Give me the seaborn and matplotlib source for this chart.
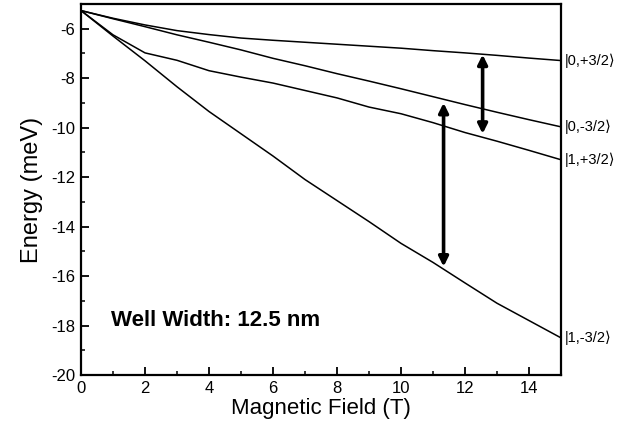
import numpy as np
import pandas as pd
import matplotlib
matplotlib.use("Agg")
import matplotlib.pyplot as plt
from matplotlib.ticker import MultipleLocator
import seaborn as sns

# Magnetic field grid (T)
field = [0, 1, 2, 3, 4, 5, 6, 7, 8, 9, 10, 11, 12, 13, 14, 15]

# Hole level energies (meV)
e_0_plus = [-5.27, -5.58, -5.85, -6.08, -6.24, -6.38, -6.47, -6.55,
            -6.63, -6.71, -6.79, -6.89, -6.98, -7.08, -7.19, -7.29]
e_0_minus = [-5.27, -5.60, -5.92, -6.25, -6.55, -6.86, -7.20, -7.50,
             -7.82, -8.12, -8.43, -8.75, -9.07, -9.38, -9.68, -9.97]
e_1_plus = [-5.27, -6.25, -6.98, -7.28, -7.70, -7.96, -8.20, -8.50,
            -8.80, -9.17, -9.44, -9.80, -10.20, -10.55, -10.92, -11.30]
e_1_minus = [-5.27, -6.30, -7.30, -8.35, -9.35, -10.25, -11.15, -12.10,
             -12.95, -13.80, -14.68, -15.45, -16.28, -17.10, -17.80, -18.50]

state_labels = ["|0,+3/2⟩", "|0,-3/2⟩", "|1,+3/2⟩", "|1,-3/2⟩"]

# Transition arrows: (field, lower energy, upper energy)
transitions = [(12.55, -10.25, -7.05), (11.33, -15.62, -9.0)]

rows = []
for lab, vals in zip(state_labels, [e_0_plus, e_0_minus, e_1_plus, e_1_minus]):
    for b, e in zip(field, vals):
        rows.append({"B": b, "E": e, "state": lab})
df = pd.DataFrame(rows)

sns.set_style("ticks")
plt.rcParams["font.family"] = ["Liberation Sans", "DejaVu Sans"]
plt.rcParams["text.color"] = "black"
plt.rcParams["axes.labelcolor"] = "black"
plt.rcParams["axes.unicode_minus"] = False

fig = plt.figure(figsize=(6.41, 4.34), dpi=100)
ax = fig.add_axes([0.1264, 0.136, 0.7488, 0.855])

sns.lineplot(data=df, x="B", y="E", hue="state",
             palette=["black"] * 4, linewidth=1.1, legend=False, ax=ax)

ax.set_xlim(0, 15)
ax.set_ylim(-20, -5)
ax.xaxis.set_major_locator(MultipleLocator(2))
ax.xaxis.set_minor_locator(MultipleLocator(1))
ax.yaxis.set_minor_locator(MultipleLocator(1))
ax.set_yticks(np.arange(-20, -5, 2))
ax.tick_params(which="major", direction="in", length=6, width=1.3,
               labelsize=12, colors="black", labelcolor="black", pad=4)
ax.tick_params(which="minor", direction="in", length=3, width=1.1,
               colors="black")
for s in ax.spines.values():
    s.set_visible(True)
    s.set_linewidth(1.6)
    s.set_color("black")

ax.set_xlabel("Magnetic Field (T)", fontsize=16, labelpad=2)
ax.set_ylabel("Energy (meV)", fontsize=17, labelpad=6)

# State labels at the right edge
for lab, vals in zip(state_labels, [e_0_plus, e_0_minus, e_1_plus, e_1_minus]):
    ax.text(15.12, vals[-1], lab, fontsize=10.5, va="center", ha="left",
            clip_on=False)

for b, lo, hi in transitions:
    ax.annotate("", xy=(b, hi), xytext=(b, lo),
                arrowprops=dict(arrowstyle="<|-|>", color="black", lw=2.6,
                                mutation_scale=14, shrinkA=0, shrinkB=0))

ax.text(0.95, -17.8, "Well Width: 12.5 nm", fontsize=16, fontweight="bold",
        va="center", ha="left")

fig.savefig("out.png", dpi=100)
